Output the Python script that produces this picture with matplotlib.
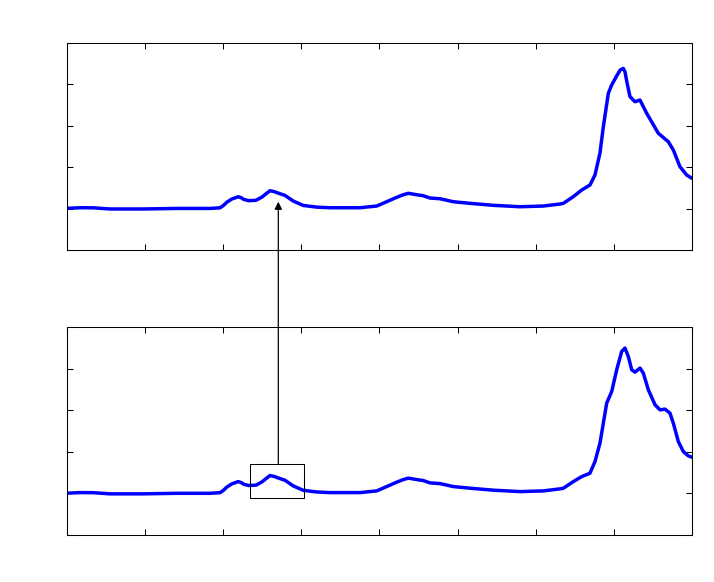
import matplotlib
matplotlib.use("Agg")
from matplotlib import pyplot as plt
from matplotlib.patches import Rectangle

# shared part of both curves (before the big peak)
x_common = [0.0, 0.166, 0.337, 0.55, 0.973, 1.404, 1.83, 1.958, 2.0, 2.044, 2.11, 2.193,
            2.23, 2.266, 2.33, 2.42, 2.496, 2.55, 2.598, 2.65, 2.705, 2.79, 2.897, 3.025,
            3.196, 3.366, 3.75, 3.964, 4.092, 4.22, 4.3, 4.369, 4.497, 4.56, 4.646, 4.774,
            4.945, 5.158, 5.457, 5.798, 6.097, 6.31]
y_common = [1.006, 1.02, 1.018, 0.99, 0.99, 1.003, 1.003, 1.018, 1.07, 1.15, 1.23, 1.286,
            1.26, 1.218, 1.19, 1.20, 1.278, 1.36, 1.43, 1.41, 1.372, 1.317, 1.18, 1.075,
            1.035, 1.02, 1.02, 1.061, 1.165, 1.271, 1.33, 1.368, 1.327, 1.31, 1.254, 1.237,
            1.165, 1.126, 1.078, 1.044, 1.061, 1.11]

# top panel peak
x_top_peak = [6.353, 6.48, 6.588, 6.694, 6.758, 6.822, 6.865, 6.929, 6.972, 7.036, 7.08,
              7.12, 7.142, 7.17, 7.206, 7.27, 7.334, 7.42, 7.569, 7.697, 7.761, 7.846,
              7.932, 8.0]
y_top_peak = [1.126, 1.286, 1.447, 1.568, 1.809, 2.34, 2.974, 3.78, 3.98, 4.20, 4.34,
              4.38, 4.30, 4.02, 3.70, 3.577, 3.618, 3.297, 2.815, 2.612, 2.412, 2.009,
              1.809, 1.729]

# bottom panel peak
x_bot_peak = [6.353, 6.48, 6.588, 6.694, 6.758, 6.822, 6.865, 6.908, 6.972, 7.036, 7.1,
              7.142, 7.185, 7.228, 7.27, 7.334, 7.377, 7.441, 7.527, 7.59, 7.654, 7.718,
              7.761, 7.825, 7.889, 7.953, 8.0]
y_bot_peak = [1.125, 1.284, 1.405, 1.487, 1.766, 2.21, 2.69, 3.173, 3.453, 3.976, 4.417,
              4.499, 4.296, 3.976, 3.92, 4.017, 3.896, 3.494, 3.133, 3.012, 3.029, 2.933,
              2.69, 2.248, 2.007, 1.904, 1.872]

# zoom box in the bottom panel and arrow target in the top panel
box_x = [2.343, 3.037]
box_y = [0.884, 1.704]
arrow_x = 2.705
arrow_top_y = 1.165

fig = plt.figure(figsize=(7.14, 5.82), dpi=100)
ax1 = fig.add_axes([0.0938, 0.5704, 0.8754, 0.3562])
ax2 = fig.add_axes([0.0938, 0.0808, 0.8754, 0.3569])

for ax, xp, yp in [(ax1, x_top_peak, y_top_peak), (ax2, x_bot_peak, y_bot_peak)]:
    ax.plot(x_common + xp, y_common + yp, color=(0, 0, 1), lw=2.5,
            solid_joinstyle="round", solid_capstyle="round")
    ax.set_xlim(0, 8)
    ax.set_ylim(0, 5)
    ax.set_xticks(range(0, 9))
    ax.set_yticks(range(0, 6))
    ax.tick_params(direction="in", length=4, width=0.75, top=True, right=True,
                   labelbottom=False, labelleft=False)
    for s in ax.spines.values():
        s.set_linewidth(0.75)

ax2.add_patch(Rectangle((box_x[0], box_y[0]), box_x[1] - box_x[0], box_y[1] - box_y[0],
                        fill=False, ec="k", lw=0.75, zorder=5))

ann = ax2.annotate("", xy=(arrow_x, arrow_top_y), xycoords=ax1.transData,
                   xytext=(arrow_x, box_y[1]), textcoords=ax2.transData,
                   arrowprops=dict(arrowstyle="-|>", mutation_scale=11, lw=0.9,
                                   color="k", shrinkA=0, shrinkB=0),
                   annotation_clip=False)
ann.set_zorder(10)

fig.savefig("out.png", dpi=100)
